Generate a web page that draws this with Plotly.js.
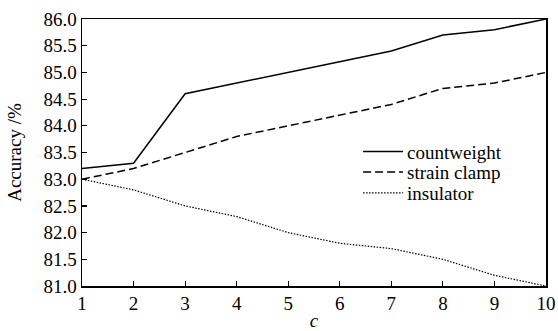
<!DOCTYPE html>
<html><head><meta charset="utf-8">
<script src="https://cdn.plot.ly/plotly-3.0.1.min.js"></script>
<style>html,body{margin:0;padding:0;background:#fff}#c{width:558px;height:331px}</style>
</head><body><div id="c"></div>
<script>
const cValues = [1,2,3,4,5,6,7,8,9,10];
const countweight = [83.2,83.3,84.6,84.8,85.0,85.2,85.4,85.7,85.8,86.0];
const strainClamp = [83.0,83.2,83.5,83.8,84.0,84.2,84.4,84.7,84.8,85.0];
const insulator = [83.0,82.8,82.5,82.3,82.0,81.8,81.7,81.5,81.2,81.0];
const seriesNames = ['countweight','strain clamp','insulator'];
const yTicks = [81.0,81.5,82.0,82.5,83.0,83.5,84.0,84.5,85.0,85.5,86.0];

const fam = 'Liberation Serif';
const font = {family:fam, color:'#000', size:19};
const traces = [
  {x:cValues, y:countweight, name:seriesNames[0], mode:'lines', line:{color:'#000', width:1.5, dash:'solid'}},
  {x:cValues, y:strainClamp, name:seriesNames[1], mode:'lines', line:{color:'#000', width:1.5, dash:'8px,4px'}},
  {x:cValues, y:insulator, name:seriesNames[2], mode:'lines', line:{color:'#000', width:1.2, dash:'1.5px,1.5px'}}
];
const layout = {
  width:558, height:331,
  margin:{l:82, r:12, t:19, b:45},
  paper_bgcolor:'#fff', plot_bgcolor:'#fff',
  font:font,
  showlegend:true,
  legend:{x:0.595, y:0.575, xanchor:'left', yanchor:'top', bgcolor:'rgba(0,0,0,0)', font:{family:fam, size:19, color:'#000'}, tracegroupgap:0},
  xaxis:{range:[1,10], tickvals:cValues, ticktext:cValues.map(String), ticks:'inside', ticklen:5, tickwidth:1.2, tickcolor:'#000',
    showline:true, linecolor:'#000', linewidth:1.5, mirror:true, showgrid:false, zeroline:false,
    title:{text:'<i>c</i>', font:{family:fam, size:19}, standoff:0}},
  yaxis:{range:[81,86], tickvals:yTicks, ticktext:yTicks.map(v=>v.toFixed(1)), ticks:'inside', ticklen:5, tickwidth:1.2, tickcolor:'#000',
    showline:true, linecolor:'#000', linewidth:1.5, mirror:true, showgrid:false, zeroline:false,
    title:{text:'Accuracy /%', font:{family:fam, size:19}, standoff:17}}
};
Plotly.newPlot('c', traces, layout, {staticPlot:true, displayModeBar:false}).then(()=>{
  const groups = Array.from(document.querySelectorAll('.legend .traces'));
  let y0 = null;
  groups.forEach((g,i)=>{
    const t = g.getAttribute('transform');
    const m = /translate\(([^,]+),\s*([^)]+)\)/.exec(t);
    if (m) {
      const y = parseFloat(m[2]);
      if (y0 === null) y0 = y;
      g.setAttribute('transform', `translate(${m[1]},${(y0 + (y - y0)*0.75).toFixed(1)})`);
    }
    g.querySelectorAll('.legendlines path').forEach(p=>p.setAttribute('d','M5,0h40'));
    g.querySelectorAll('text.legendtext').forEach(tx=>tx.setAttribute('x','49'));
  });
  document.querySelectorAll('clipPath[id^="legend"] rect').forEach(r=>{
    r.setAttribute('width','300'); r.setAttribute('height','200');
  });
  document.querySelectorAll('.legend .bg').forEach(r=>r.setAttribute('width','300'));
});
</script></body></html>
